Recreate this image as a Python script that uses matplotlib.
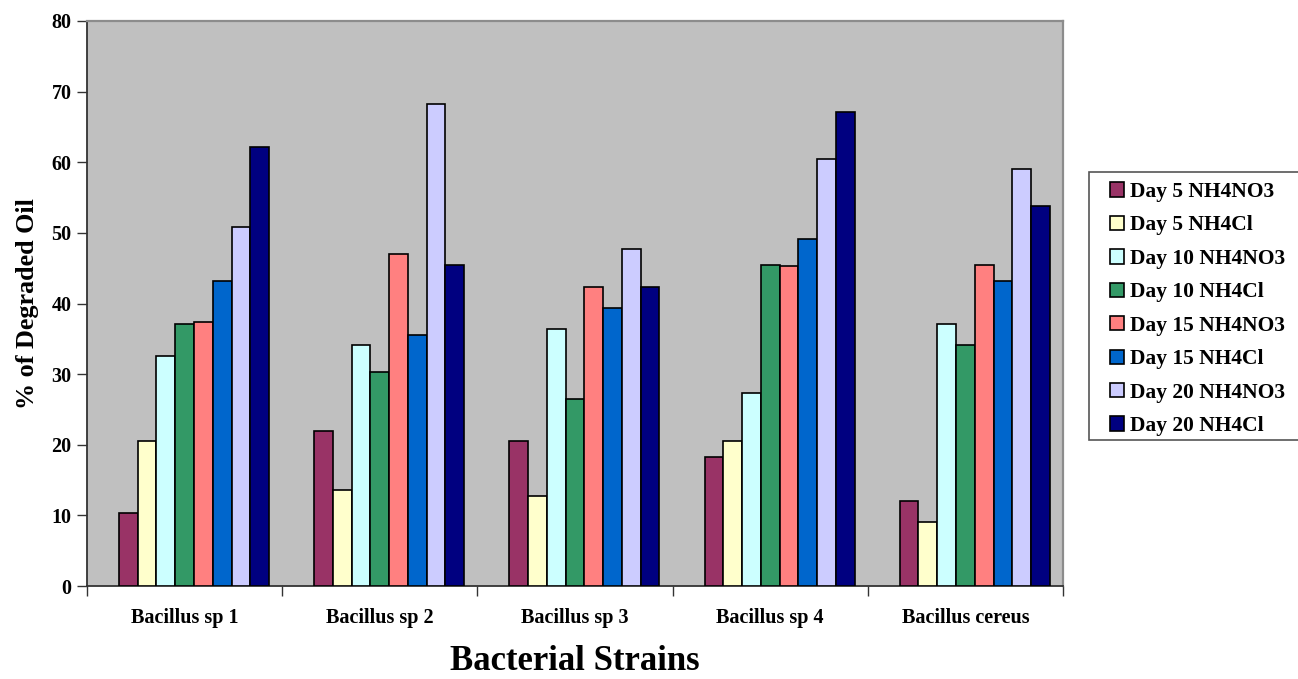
import numpy as np
import matplotlib
matplotlib.use('Agg')
import matplotlib.pyplot as plt
from matplotlib.patches import Rectangle

strains = ['Bacillus sp 1', 'Bacillus sp 2', 'Bacillus sp 3', 'Bacillus sp 4', 'Bacillus cereus']

series_names = ['Day 5 NH4NO3', 'Day 5 NH4Cl', 'Day 10 NH4NO3', 'Day 10 NH4Cl',
                'Day 15 NH4NO3', 'Day 15 NH4Cl', 'Day 20 NH4NO3', 'Day 20 NH4Cl']

day5_nh4no3 = [10.3, 22.0, 20.5, 18.2, 12.1]
day5_nh4cl = [20.5, 13.6, 12.8, 20.5, 9.1]
day10_nh4no3 = [32.6, 34.1, 36.4, 27.3, 37.1]
day10_nh4cl = [37.1, 30.3, 26.5, 45.5, 34.1]
day15_nh4no3 = [37.4, 47.0, 42.4, 45.3, 45.5]
day15_nh4cl = [43.2, 35.6, 39.4, 49.2, 43.2]
day20_nh4no3 = [50.8, 68.2, 47.7, 60.4, 59.1]
day20_nh4cl = [62.1, 45.5, 42.4, 67.1, 53.8]

colors = ['#993366', '#FFFFCC', '#CCFFFF', '#339966',
          '#FF8080', '#0066CC', '#CCCCFF', '#000080']

all_series = [day5_nh4no3, day5_nh4cl, day10_nh4no3, day10_nh4cl,
              day15_nh4no3, day15_nh4cl, day20_nh4no3, day20_nh4cl]

plt.rcParams['font.family'] = ['Liberation Serif', 'DejaVu Serif']
plt.rcParams['font.weight'] = 'bold'

W, H = 1298, 679
fig = plt.figure(figsize=(W / 100, H / 100), dpi=100)
ax = fig.add_axes([87 / W, 1 - 586 / H, (1063 - 87) / W, (586 - 21) / H])
ax.set_facecolor('#C0C0C0')

x = np.arange(len(strains))
slots = 9  # first slot in each group stays empty
gap = 0.135
width = (1 - gap) / slots
handles = []
for i, (name, vals, col) in enumerate(zip(series_names, all_series, colors)):
    offs = -0.5 + gap / 2 + (i + 1.5) * width
    b = ax.bar(x + offs, vals, width, color=col, edgecolor='black', linewidth=1.2,
               label=name, zorder=3)
    handles.append(b)

ax.set_xlim(-0.5, len(strains) - 0.5)
ax.set_ylim(0, 80)
ax.set_yticks(range(0, 81, 10))
ax.set_xticks(x)
ax.set_xticklabels(strains, fontsize=14.5, fontweight='bold')
ax.set_xticks(np.arange(-0.5, len(strains)), minor=True)
ax.tick_params(axis='x', which='major', length=0, pad=16)
ax.tick_params(axis='x', which='minor', length=7, width=1, color='#333333', direction='out')
ax.tick_params(axis='y', length=7, width=1, color='#333333', labelsize=14.5, pad=4)
for lab in ax.get_yticklabels():
    lab.set_fontweight('bold')

for side in ['top', 'right']:
    ax.spines[side].set_color('#8C8C8C')
    ax.spines[side].set_linewidth(1.6)
for side in ['left', 'bottom']:
    ax.spines[side].set_color('#333333')
    ax.spines[side].set_linewidth(1.3)

ax.set_ylabel('% of Degraded Oil', fontsize=18.8, fontweight='bold', labelpad=9)
ax.set_xlabel('Bacterial Strains', fontsize=25, fontweight='bold', labelpad=12)

# legend frame drawn separately so the side margin can be wider than the top one
fig.patches.append(Rectangle((1089 / W, 1 - 440 / H), (1300 - 1089) / W, (440 - 172) / H,
                             transform=fig.transFigure, facecolor='white',
                             edgecolor='#555555', linewidth=1.2, zorder=0))
leg = fig.legend(handles=handles, loc='upper left',
                 bbox_to_anchor=(1110 / W, 1 - 182 / H),
                 prop={'weight': 'bold', 'size': 15.5},
                 frameon=False,
                 handlelength=0.65, handleheight=0.65, handletextpad=0.28,
                 labelspacing=0.625, borderpad=0, borderaxespad=0)

fig.savefig('out.png', dpi=100)
